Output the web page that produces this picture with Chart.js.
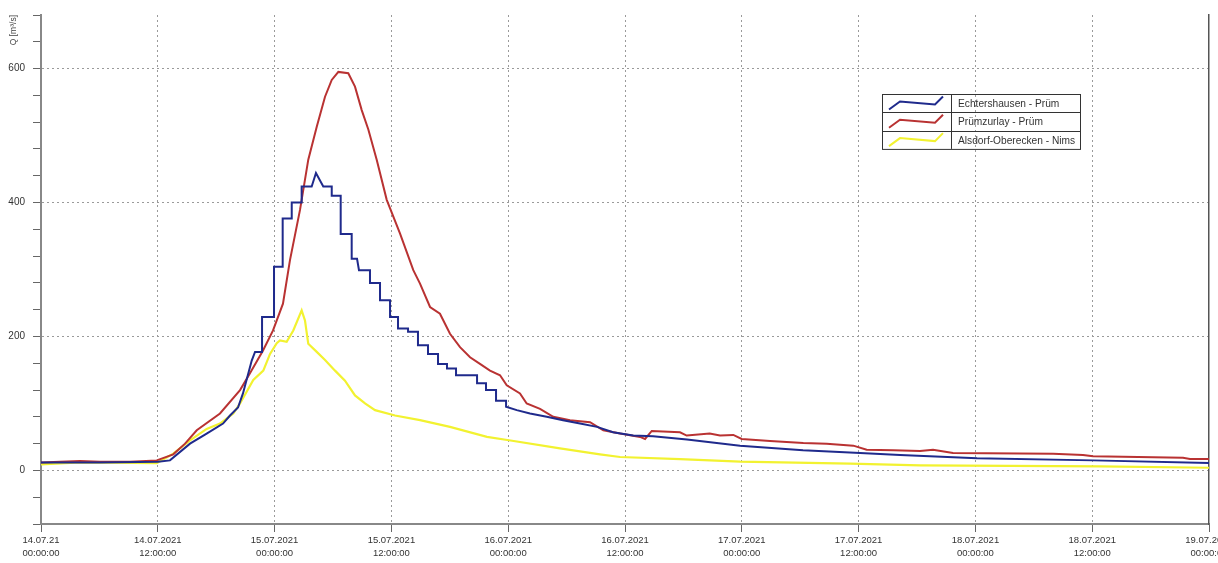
<!DOCTYPE html>
<html lang="de">
<head>
  <meta charset="UTF-8">
  <title>Abfluss Prüm / Nims Juli 2021</title>
  <script src="https://cdn.jsdelivr.net/npm/chart.js"></script>
  <style>
    html, body {
      margin: 0;
      padding: 0;
      background: #fff;
      overflow: hidden;
    }
    .chart-box {
      position: relative;
      width: 1251px;
      height: 563px;
    }
  </style>
</head>
<body>
  <div class="chart-box">
    <canvas id="chart"></canvas>
  </div>

  <script>
    // Stunden ab 14.07.21 00:00 / Abfluss Q in m³/s
    const echtT = [0, 2.98, 6.06, 12.02, 13.25, 15.31, 17.02, 18.70, 19.42, 20.24, 20.75, 21.65, 21.99, 22.71, 22.71,
      23.94, 23.94, 24.83, 24.83, 25.76, 25.76, 26.78, 26.78, 27.81, 28.25, 29.0, 29.87, 29.87, 30.79, 30.79,
      31.92, 31.92, 32.47, 32.67, 33.80, 33.80, 34.83, 34.83, 35.86, 35.86, 36.68, 36.68, 37.71, 37.71, 38.73,
      38.73, 39.76, 39.76, 40.79, 40.79, 41.71, 41.71, 42.64, 42.64, 44.80, 44.80, 45.72, 45.72, 46.75, 46.75,
      47.78, 47.78, 48.88, 50.24, 51.96, 53.63, 55.38, 57.13, 58.77, 60.83, 62.88, 66.37, 71.82, 78.29, 84.15,
      88.26, 96.17, 108.08, 120];
    const echtQ = [12, 12, 12, 13, 15, 40, 55, 70, 82, 94, 115, 164, 177, 177, 229,
      229, 304, 304, 376, 376, 400, 400, 424, 424, 444, 424, 424, 410, 410, 353,
      353, 316, 316, 299, 299, 280, 280, 254, 254, 229, 229, 212, 212, 207, 207,
      187, 187, 174, 174, 159, 159, 152, 152, 142, 142, 130, 130, 120, 120, 104,
      104, 95, 90, 85, 80, 75, 70, 65, 57, 52, 51, 46, 37, 30, 26,
      23, 18, 15, 11];

    const pruemT = [0, 1.95, 4.0, 6.06, 9.14, 11.89, 13.59, 14.8, 16.0, 18.39, 20.45, 21.47, 22.81, 23.84, 24.86,
      25.58, 26.61, 27.46, 28.33, 29.18, 29.87, 30.55, 31.57, 32.26, 32.95, 33.63, 34.49, 35.52, 36.88, 38.25,
      38.94, 39.97, 40.99, 42.02, 43.05, 44.08, 45.10, 46.13, 47.16, 47.85, 49.21, 49.90, 51.27, 52.63, 54.35,
      56.41, 57.77, 59.49, 61.55, 62.06, 62.75, 65.65, 66.34, 68.70, 69.76, 71.13, 71.99, 74.90, 78.32, 80.72,
      83.46, 84.83, 87.57, 90.31, 91.65, 93.70, 103.98, 107.06, 108.09, 117.33, 118.05, 120];
    const pruemQ = [12, 13, 14, 13, 13, 15, 24, 40, 60, 85, 120, 145, 179, 209, 249,
      314, 389, 464, 513, 558, 583, 595, 593, 573, 538, 509, 464, 404, 354, 299,
      279, 244, 234, 204, 184, 169, 159, 149, 142, 127, 115, 100, 92, 80, 75,
      72, 60, 55, 50, 47, 59, 57, 52, 55, 52, 53, 47, 44, 41, 40,
      37, 31, 30, 29, 31, 26, 25, 23, 21, 19, 17, 17];

    const nimsT = [0, 4.0, 11.89, 13.59, 15.31, 17.02, 18.39, 19.76, 20.45, 21.81, 22.84, 23.53, 24.22, 24.55, 25.24,
      25.92, 26.78, 27.12, 27.46, 28.33, 29.18, 30.21, 31.23, 32.26, 33.29, 34.32, 36.37, 38.94, 42.02, 45.82,
      48.08, 53.32, 57.43, 59.49, 65.65, 71.82, 83.12, 90.31, 108.8, 120];
    const nimsQ = [9, 12, 11, 25, 45, 62, 70, 85, 100, 135, 149, 174, 190, 194, 192,
      209, 239, 224, 189, 177, 165, 149, 134, 112, 100, 90, 82, 75, 65, 50,
      45, 33, 24, 20, 17, 13, 10, 7.5, 6, 4];

    const seriesNames = ['Echtershausen - Prüm', 'Prümzurlay - Prüm', 'Alsdorf-Oberecken - Nims'];
    const seriesColors = ['#1f2a8c', '#b93232', '#f2f230'];

    const xTickLabels = [
      ['14.07.21', '00:00:00'], ['14.07.2021', '12:00:00'],
      ['15.07.2021', '00:00:00'], ['15.07.2021', '12:00:00'],
      ['16.07.2021', '00:00:00'], ['16.07.2021', '12:00:00'],
      ['17.07.2021', '00:00:00'], ['17.07.2021', '12:00:00'],
      ['18.07.2021', '00:00:00'], ['18.07.2021', '12:00:00'],
      ['19.07.2021', '00:00:00']
    ];

    const toPoints = (t, q) => t.map((h, i) => ({ x: h, y: q[i] }));
    const fontFamily = '"Liberation Sans", Arial, sans-serif';

    // Legende als Tabelle wie im Original
    const tableLegend = {
      id: 'tableLegend',
      afterDraw(chart) {
        const ctx = chart.ctx;
        const left = 882, top = 94, rowH = 18.3, sampleW = 69, boxW = 198;
        ctx.save();
        ctx.strokeStyle = '#333';
        ctx.lineWidth = 1;
        ctx.strokeRect(left + 0.5, top + 0.5, boxW, rowH * 3);
        ctx.beginPath();
        ctx.moveTo(left + sampleW + 0.5, top);
        ctx.lineTo(left + sampleW + 0.5, top + rowH * 3);
        for (let i = 1; i < 3; i++) {
          ctx.moveTo(left, Math.round(top + rowH * i) + 0.5);
          ctx.lineTo(left + boxW, Math.round(top + rowH * i) + 0.5);
        }
        ctx.stroke();
        ctx.font = '10.2px ' + fontFamily;
        ctx.textBaseline = 'middle';
        chart.data.datasets.forEach((ds, i) => {
          const rt = top + rowH * i;
          ctx.strokeStyle = ds.borderColor;
          ctx.lineWidth = 2;
          ctx.beginPath();
          ctx.moveTo(left + 7, rt + 15.5);
          ctx.lineTo(left + 18, rt + 7.5);
          ctx.lineTo(left + 53, rt + 10.5);
          ctx.lineTo(left + 61, rt + 2.5);
          ctx.stroke();
          ctx.fillStyle = '#333';
          ctx.fillText(ds.label, left + 76, rt + rowH / 2 + 1);
        });
        ctx.restore();
      }
    };

    new Chart(document.getElementById('chart'), {
      type: 'line',
      data: {
        datasets: [
          { label: seriesNames[0], data: toPoints(echtT, echtQ), borderColor: seriesColors[0] },
          { label: seriesNames[1], data: toPoints(pruemT, pruemQ), borderColor: seriesColors[1] },
          { label: seriesNames[2], data: toPoints(nimsT, nimsQ), borderColor: seriesColors[2], borderWidth: 2.2 }
        ]
      },
      options: {
        responsive: true,
        maintainAspectRatio: false,
        animation: false,
        layout: { padding: { top: 15, right: 42, left: 0, bottom: 0 } },
        elements: {
          line: { borderWidth: 2, tension: 0, fill: false },
          point: { radius: 0 }
        },
        plugins: {
          legend: { display: false },
          tooltip: { enabled: false }
        },
        scales: {
          x: {
            type: 'linear',
            min: 0,
            max: 120,
            afterFit: (scale) => { scale.height = 39; },
            ticks: {
              stepSize: 12,
              autoSkip: false,
              maxRotation: 0,
              padding: 2,
              color: '#333',
              font: { family: fontFamily, size: 9.5, lineHeight: 1.35 },
              callback: (v) => xTickLabels[Math.round(v / 12)]
            },
            grid: {
              color: (c) => (c.tick && c.tick.value === 120 ? 'rgba(0,0,0,0)' : '#9a9a9a'),
              lineWidth: 1,
              tickLength: 8,
              tickColor: '#666'
            },
            border: { display: true, color: '#888', width: 2, dash: [2, 3] }
          },
          y: {
            min: -80,
            max: 680,
            afterFit: (scale) => { scale.width = 41; },
            title: {
              display: true,
              text: 'Q [m³/s]',
              align: 'end',
              color: '#444',
              padding: { top: 9, bottom: 0 },
              font: { family: fontFamily, size: 8.5 }
            },
            ticks: {
              stepSize: 40,
              padding: 8,
              color: '#333',
              font: { family: fontFamily, size: 10 },
              callback: (v) => (v % 200 === 0 ? String(v) : '')
            },
            grid: {
              color: (c) => (c.tick && c.tick.value % 200 === 0 && c.tick.value >= 0 ? '#9a9a9a' : 'rgba(0,0,0,0)'),
              lineWidth: 1,
              tickLength: 8,
              tickColor: '#666'
            },
            border: { display: true, color: '#888', width: 2, dash: [2, 3] }
          },
          yRight: {
            position: 'right',
            min: -80,
            max: 680,
            afterFit: (scale) => { scale.width = 0; },
            ticks: { display: false },
            grid: { display: false, drawTicks: false },
            border: { display: true, color: '#555', width: 1.5 }
          }
        }
      },
      plugins: [tableLegend]
    });
  </script>
</body>
</html>
